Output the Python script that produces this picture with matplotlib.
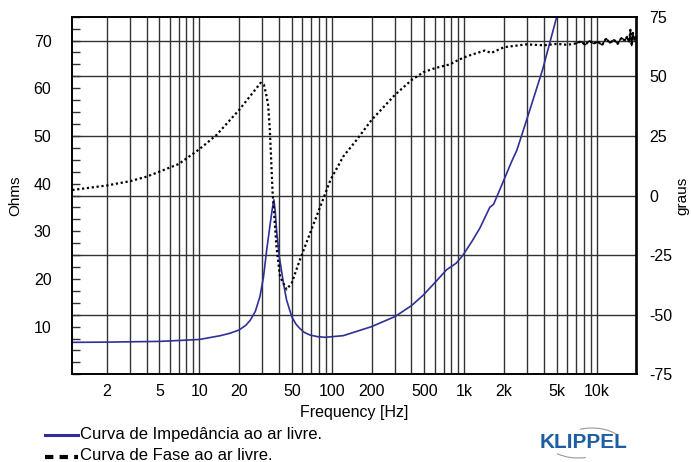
import matplotlib
matplotlib.use("Agg")
import matplotlib.pyplot as plt
import numpy as np
from matplotlib.ticker import FixedLocator, NullFormatter, LogLocator
from matplotlib.lines import Line2D
from matplotlib.patches import Arc
from matplotlib.transforms import IdentityTransform

plt.rcParams['font.family'] = ['Liberation Sans', 'DejaVu Sans']
plt.rcParams['axes.unicode_minus'] = False

# ---------------- data ----------------
imp_freq = [1.1, 2, 5, 10, 14.4, 17, 20, 22.5, 24.2, 26.5, 28.7, 30.5, 32.3, 34.1, 35.5,
            36.6, 37.5, 38.3, 40.2, 43.2, 45.6, 49.9, 53.5, 57.5, 62, 68.5, 78, 89.2, 122,
            200, 300, 400, 491, 600, 735, 870, 980, 1140, 1310, 1560, 1670, 1970, 2280,
            2500, 2990, 3900, 5000, 6000]
imp_ohm = [6.7, 6.75, 6.9, 7.3, 8.1, 8.6, 9.3, 10.3, 11.3, 13.2, 16.3, 20.3, 26.1, 31.0, 34.5,
           36.6, 34.0, 30.3, 24.7, 19.1, 15.6, 12.1, 10.6, 9.6, 8.8, 8.24, 7.9, 7.76, 8.1,
           10.0, 12.1, 14.4, 16.6, 19.2, 21.9, 23.3, 25.0, 27.8, 30.6, 35.0, 35.7, 40.4, 44.6,
           47.0, 53.7, 63.8, 75.0, 82.0]

ph_freq = [1.1, 2, 3, 4, 5, 7, 10, 13.5, 20, 25.7, 29.1, 30.8, 32.3, 33.1, 34.1, 35.8,
           38.3, 40.7, 45.6, 49.8, 57.5, 68.5, 81.9, 97.8, 122, 154, 200, 300, 400,
           491, 600, 780, 900, 1040, 1160, 1430, 1600, 2000, 2940, 4000, 5000, 6000,
           7000, 7600, 8200, 8800, 9500, 10200, 11000, 11800, 12600, 13500, 14400,
           15400, 16400, 17000, 17600, 18000, 18400, 18800, 19200, 19600, 20000]
ph_deg = [2.3, 4.2, 6.0, 7.9, 10.0, 13.2, 19.4, 25.4, 35.9, 43.5, 47.3, 46.4, 41.4, 38.0,
          27.5, 1.0, -21.5, -34.0, -39.4, -36.8, -27.0, -15.9, -4.7, 6.5, 16.3, 23.3,
          31.7, 42.2, 48.4, 51.7, 53.4, 55.0, 56.8, 58.3, 59.2, 60.8, 59.8, 62.2, 63.4,
          63.0, 63.6, 63.2, 63.8, 64.6, 63.2, 64.9, 63.7, 64.5, 63.1, 65.9, 63.9, 65.4,
          63.6, 66.2, 64.9, 66.8, 64.3, 69.5, 62.8, 68.2, 65.0, 66.7, 66.0]

x_ticks = [2, 5, 10, 20, 50, 100, 200, 500, 1000, 2000, 5000, 10000]
x_ticklabels = ['2', '5', '10', '20', '50', '100', '200', '500', '1k', '2k', '5k', '10k']
ohm_ticks = [10, 20, 30, 40, 50, 60, 70]
deg_ticks = [-75, -50, -25, 0, 25, 50, 75]

# ---------------- figure ----------------
W, H = 691, 462
fig = plt.figure(figsize=(W / 100, H / 100), dpi=100)
ax = fig.add_axes([72.3 / W, 1 - 374.3 / H, (636.5 - 72.3) / W, (374.3 - 16.7) / H])
ax.set_xscale('log')
ax.set_xlim(1.1, 20000)
ax.set_ylim(0, 75)

gcol = '#333333'
ax.xaxis.set_major_locator(FixedLocator(x_ticks))
ax.set_xticklabels(x_ticklabels)
ax.xaxis.set_minor_locator(LogLocator(base=10, subs=np.arange(1, 10), numticks=30))
ax.xaxis.set_minor_formatter(NullFormatter())
ax.grid(True, axis='x', which='both', color=gcol, lw=1.0)
ax.tick_params(axis='x', which='both', length=0, pad=7, labelsize=11.5)

ax.yaxis.set_major_locator(FixedLocator(ohm_ticks))
ax.yaxis.set_minor_locator(FixedLocator(np.arange(0, 75.1, 2.5)))
ax.tick_params(axis='y', which='both', direction='in', length=6, width=1.0,
               labelsize=11.5, pad=15, color='#333333')

ax2 = ax.twinx()
ax2.set_ylim(-75, 75)
ax2.yaxis.set_major_locator(FixedLocator(deg_ticks))
ax2.tick_params(axis='y', length=0, pad=9, labelsize=11.5)
ax2.grid(False)

# horizontal grid lines (phase grid + 70 ohm)
for t in deg_ticks[1:-1]:
    ax.axhline((t + 75) / 2.0, color=gcol, lw=1.0, zorder=1)
ax.axhline(70, color=gcol, lw=1.0, zorder=1)

for a in (ax, ax2):
    for s in a.spines.values():
        s.set_color('black')
        s.set_linewidth(1.2)

# curves
ax.plot(imp_freq, imp_ohm, color='#2f2f98', lw=1.2, zorder=5)
ax2.plot(ph_freq, ph_deg, color='black', lw=1.6, linestyle=(0, (1, 1.2)), zorder=5)
pf = np.array(ph_freq); pd_ = np.array(ph_deg)
m = pf >= 7000
ax2.plot(pf[m], pd_[m], color='black', lw=0.9, zorder=5)
ax2.set_xlim(1.1, 20000)

ax.set_ylabel('Ohms', fontsize=11, labelpad=8)
ax2.set_ylabel('graus', fontsize=11, labelpad=2)
ax.set_xlabel('Frequency [Hz]', fontsize=11.5, labelpad=4)

# legend (manual)
def fy(y):
    return 1 - y / H

fig.add_artist(Line2D([45 / W, 78 / W], [fy(435), fy(435)], color='#2f2f98', lw=2.2))
fig.text(80 / W, fy(435), 'Curva de Impedância ao ar livre.', fontsize=12, va='center', ha='left')
fig.add_artist(Line2D([45 / W, 78 / W], [fy(457), fy(457)], color='black', lw=3,
                      linestyle=(0, (2, 1.5))))
fig.text(80 / W, fy(455), 'Curva de Fase ao ar livre.', fontsize=12, va='center', ha='left')

# KLIPPEL logo
fig.text(584 / W, fy(443), 'KLIPPEL', color='#1d5ea3', fontsize=15, fontweight='bold',
         ha='center', va='center')
arc_top = Arc((592, H - 450), 70, 44, theta1=30, theta2=120, transform=IdentityTransform(),
              color='#999999', lw=0.8)
arc_bot = Arc((578, H - 436), 70, 44, theta1=220, theta2=290, transform=IdentityTransform(),
              color='#999999', lw=0.8)
fig.add_artist(arc_top)
fig.add_artist(arc_bot)

fig.savefig('out.png', dpi=100)
